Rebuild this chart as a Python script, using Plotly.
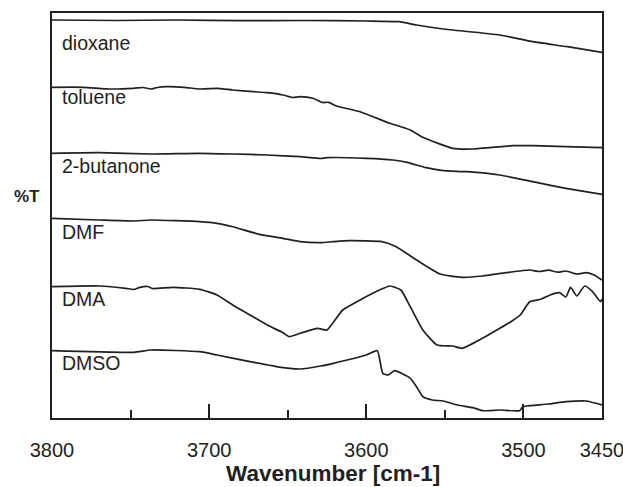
import plotly.graph_objects as go

# Offset %T traces (arbitrary stacked units), x = wavenumber [cm-1]
dioxane_x = [3800, 3760, 3720, 3680, 3640, 3600, 3579, 3568, 3551, 3515, 3494, 3472, 3450]
dioxane_y = [398, 397.5, 398, 397.3, 397.5, 397, 396.3, 393, 389, 383, 376.3, 371.3, 365.7]

toluene_x = [3800, 3780, 3763, 3748, 3742, 3737, 3733, 3727, 3716, 3706, 3695, 3685, 3672, 3663,
             3653, 3647, 3642, 3634, 3628, 3624, 3619, 3604, 3585, 3572, 3564, 3545, 3532, 3507,
             3494, 3473, 3450]
toluene_y = [330.7, 330.7, 329, 329.7, 330.5, 329, 330.5, 331.3, 330.7, 329, 329.7, 328, 326.3, 325.3,
             323, 320.5, 321.3, 319.7, 315.5, 315.7, 312, 306.3, 294.7, 288, 280.7, 269.7, 269, 272.3,
             272.3, 271.3, 270.3]

butanone_x = [3800, 3770, 3737, 3706, 3685, 3663, 3642, 3629, 3625, 3600, 3583, 3574, 3562, 3551,
              3536, 3515, 3494, 3473, 3450]
butanone_y = [264.7, 265.3, 264, 264.7, 264, 263, 261.3, 259.5, 260.3, 259.7, 258, 255.7, 250.3, 247.3,
              246.3, 243, 236.3, 229.7, 223.7]

dmf_x = [3800, 3770, 3748, 3737, 3706, 3695, 3685, 3668, 3653, 3642, 3629, 3621, 3611, 3590, 3581,
         3568, 3553, 3539, 3526, 3511, 3496, 3490, 3484, 3478, 3473, 3466, 3460, 3455, 3450]
dmf_y = [199.7, 198, 197, 198, 196.3, 194.7, 191.3, 183.7, 179.7, 176.3, 175.3, 176.3, 177.3, 176.3,
         171.3, 158, 144, 140.7, 142, 145.3, 148, 146.5, 147.8, 145.8, 147, 144, 145.3, 143, 138]

dma_x = [3800, 3770, 3753, 3748, 3744, 3739, 3736, 3723, 3706, 3695, 3685, 3674, 3663, 3653, 3649,
         3642, 3631, 3625, 3615, 3602, 3589, 3585, 3578, 3572, 3564, 3555, 3545, 3539, 3526, 3515,
         3508, 3502, 3496, 3489, 3483, 3477, 3473, 3470, 3466, 3461, 3456, 3451, 3450]
dma_y = [131.3, 132, 129.7, 128.5, 130.7, 131.5, 129.5, 130.7, 128.7, 123, 113, 103, 93, 85.3, 81.3,
         84.7, 89.7, 88, 108, 119.7, 129.7, 132, 128, 111.3, 88, 73, 72, 69.7, 79.7, 89.7,
         96.3, 103, 116.3, 118.7, 123, 125.3, 121, 130.7, 122, 132, 126.3, 116.3, 119]

dmso_x = [3800, 3748, 3737, 3706, 3695, 3674, 3653, 3642, 3629, 3621, 3600, 3593, 3589.5, 3586,
          3582, 3572, 3568, 3564, 3558, 3551, 3542, 3532, 3526, 3515, 3502.5, 3500.5, 3498, 3484,
          3473, 3460, 3450]
dmso_y = [67.3, 65.7, 68, 66.3, 63, 56.3, 50.3, 49, 52, 54.7, 63, 67.3, 44.7, 43,
          47.3, 39.7, 31.3, 21.3, 18, 17, 13, 10.3, 7.3, 8, 7.3, 11, 12, 14,
          16.3, 17, 13]

series = [
    ("dioxane", dioxane_x, dioxane_y, 375),
    ("toluene", toluene_x, toluene_y, 321),
    ("2-butanone", butanone_x, butanone_y, 252),
    ("DMF", dmf_x, dmf_y, 186),
    ("DMA", dma_x, dma_y, 119),
    ("DMSO", dmso_x, dmso_y, 55),
]

major_ticks = [3800, 3700, 3600, 3500, 3450]
minor_ticks = [3750, 3650, 3550]

ink = "#231f20"
FONT = "Liberation Sans, Arial"
W, H = 623, 487
ml, mr, mt, mb = 51.5, 21, 13, 69
pw, ph = W - ml - mr, H - mt - mb

fig = go.Figure()
for name, xs, ys, label_y in series:
    fig.add_trace(go.Scatter(x=xs, y=ys, mode="lines", name=name,
                             line=dict(color=ink, width=1.7, shape="spline", smoothing=0.5),
                             showlegend=False))
    fig.add_annotation(x=3794.6, y=label_y, xref="x", yref="y", text=name,
                       showarrow=False, xanchor="left", yanchor="middle",
                       font=dict(family=FONT, size=19.5, color=ink))

fig.add_annotation(x=(26 - ml) / pw, y=(H - mb - 196) / ph,
                   xref="paper", yref="paper", text="<b>%T</b>",
                   showarrow=False, xanchor="center", yanchor="middle",
                   font=dict(family=FONT, size=17, color=ink))

fig.add_annotation(x=(333 - ml) / pw, y=(H - mb - 474) / ph,
                   xref="paper", yref="paper", text="<b>Wavenumber [cm-1]</b>",
                   showarrow=False, xanchor="center", yanchor="middle",
                   font=dict(family=FONT, size=22.5, color=ink))

fig.update_layout(
    width=W, height=H,
    margin=dict(l=ml, r=mr, t=mt, b=mb, pad=0, autoexpand=False),
    paper_bgcolor="white", plot_bgcolor="white",
    xaxis=dict(range=[3800.001, 3449.99], tickmode="array", tickvals=major_ticks,
               ticktext=[str(v) for v in major_ticks], automargin=False,
               ticks="inside", ticklen=14, tickwidth=1.5, tickcolor=ink,
               ticklabelstandoff=13, ticklabeloverflow="allow",
               minor=dict(tickmode="array", tickvals=minor_ticks, ticks="inside",
                          ticklen=8, tickwidth=1.5, tickcolor=ink, showgrid=False),
               showline=True, linewidth=2, linecolor=ink, mirror=True,
               showgrid=False, zeroline=False,
               tickfont=dict(family=FONT, size=20, color=ink)),
    yaxis=dict(range=[0, 405], showticklabels=False, ticks="", automargin=False,
               showline=True, linewidth=2, linecolor=ink, mirror=True,
               showgrid=False, zeroline=False),
)

fig.write_html("out.html")
